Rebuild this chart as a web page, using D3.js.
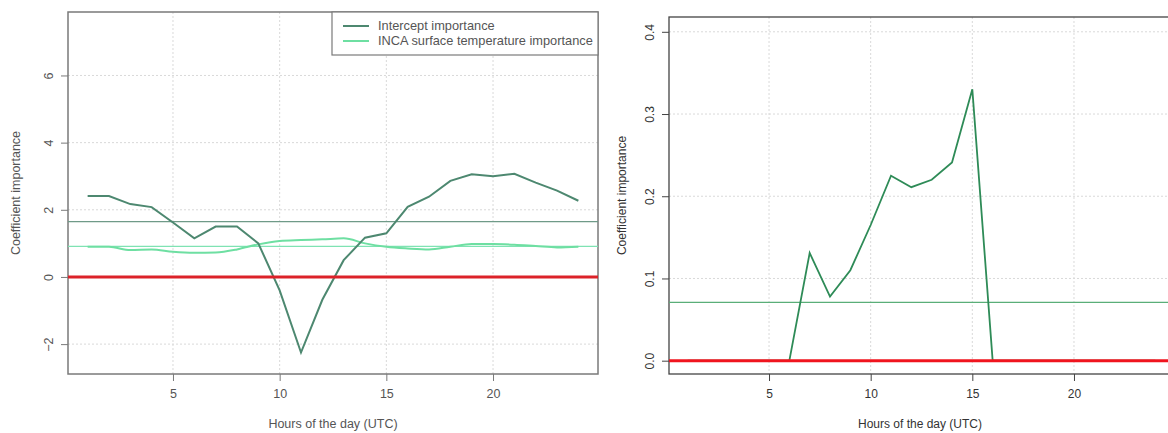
<!DOCTYPE html>
<html>
<head>
<meta charset="utf-8">
<script src="https://cdn.jsdelivr.net/npm/d3@7"></script>
<style>
  body { margin: 0; background: #fff; }
  svg { display: block; font-family: "Liberation Sans", Arial, sans-serif; }
</style>
</head>
<body>
<svg id="chart" width="1168" height="433"></svg>
<script>
// hours of the day
var hours = d3.range(1, 25);

// left panel: two coefficient importances
var interceptImp = [2.41, 2.41, 2.17, 2.08, 1.62, 1.15, 1.5, 1.5, 1.0, -0.4, -2.25, -0.68,
                    0.5, 1.17, 1.3, 2.09, 2.39, 2.86, 3.06, 3.0, 3.07, 2.81, 2.57, 2.27];
var incaTempImp = [0.9, 0.9, 0.8, 0.82, 0.75, 0.72, 0.73, 0.82, 0.97, 1.07, 1.1, 1.12,
                   1.15, 1.0, 0.9, 0.85, 0.82, 0.9, 0.98, 0.98, 0.96, 0.92, 0.88, 0.9];
var interceptMean = 1.65;
var incaMean = 0.91;
var leftYTicks = [-2, 0, 2, 4, 6];
var legendLabels = ["Intercept importance", "INCA surface temperature importance"];

// right panel: single coefficient
var rightImp = [0, 0, 0, 0, 0, 0, 0.131, 0.078, 0.11, 0.165, 0.225, 0.211,
                0.22, 0.241, 0.33, 0, 0, 0, 0, 0, 0, 0, 0, 0];
var rightMean = 0.071;
var rightYTicks = [0, 0.1, 0.2, 0.3, 0.4];

var xTicks = [5, 10, 15, 20];
var xLabel = "Hours of the day (UTC)";
var yLabel = "Coefficient importance";

var svg = d3.select("#chart");

function drawPanel(p) {
    var x = d3.scaleLinear().domain([0.08, 24.92]).range([p.left, p.right]);
    var y = d3.scaleLinear().domain(p.yDomain).range([p.bottom, p.top]);
    var g = svg.append("g");
    var fs = p.fontSize + "px";

    // grid
    g.append("g").selectAll("line").data(xTicks).enter().append("line")
        .attr("x1", function(d) { return x(d); }).attr("x2", function(d) { return x(d); })
        .attr("y1", p.top).attr("y2", p.bottom)
        .attr("stroke", "#d9d9d9").attr("stroke-dasharray", "2,2");
    g.append("g").selectAll("line").data(p.yTicks).enter().append("line")
        .attr("x1", p.left).attr("x2", p.right)
        .attr("y1", function(d) { return y(d); }).attr("y2", function(d) { return y(d); })
        .attr("stroke", "#d9d9d9").attr("stroke-dasharray", "2,2");

    // axes
    var xAxis = g.append("g")
        .attr("transform", "translate(0," + p.bottom + ")")
        .call(d3.axisBottom(x).tickValues(xTicks).tickSize(7).tickPadding(8).tickFormat(d3.format("d")));
    var yAxis = g.append("g")
        .attr("transform", "translate(" + p.left + ",0)")
        .call(d3.axisLeft(y).tickValues(p.yTicks).tickSize(7).tickPadding(0).tickFormat(p.yFormat));
    [xAxis, yAxis].forEach(function(a) {
        a.select(".domain").remove();
        a.selectAll(".tick line").attr("stroke", p.axisColor);
        a.selectAll("text").attr("fill", p.textColor).style("font-size", fs);
    });
    yAxis.selectAll(".tick text")
        .attr("text-anchor", "middle")
        .attr("transform", "translate(-19,0) rotate(-90)")
        .attr("x", 0).attr("dy", "0.35em");

    // box
    g.append("rect")
        .attr("x", p.left).attr("y", p.top)
        .attr("width", p.right - p.left).attr("height", p.bottom - p.top)
        .attr("fill", "none").attr("stroke", p.axisColor).attr("stroke-width", p.boxWidth);

    // axis titles
    g.append("text")
        .attr("x", p.xLabelX).attr("y", 428)
        .attr("text-anchor", "middle").attr("fill", p.textColor)
        .style("font-size", fs).text(xLabel);
    g.append("text")
        .attr("transform", "translate(" + p.yLabelX + "," + ((p.top + p.bottom) / 2) + ") rotate(-90)")
        .attr("text-anchor", "middle").attr("fill", p.textColor)
        .style("font-size", fs).text(yLabel);

    return {x: x, y: y, g: g};
}

var line = function(x, y) {
    return d3.line().x(function(d, i) { return x(hours[i]); }).y(function(d) { return y(d); });
};

// ---- left panel
var L = drawPanel({
    left: 68, right: 598, top: 12, bottom: 374,
    yDomain: [-2.89, 7.89], yTicks: leftYTicks, yFormat: d3.format("d"),
    axisColor: "#7a7a7a", textColor: "#555", boxWidth: 1.5, fontSize: 12.5,
    xLabelX: 333, yLabelX: 20
});

L.g.append("line")
    .attr("x1", 68).attr("x2", 598)
    .attr("y1", L.y(interceptMean)).attr("y2", L.y(interceptMean))
    .attr("stroke", "#6f9a88").attr("stroke-width", 1.2);
L.g.append("line")
    .attr("x1", 68).attr("x2", 598)
    .attr("y1", L.y(incaMean)).attr("y2", L.y(incaMean))
    .attr("stroke", "#7fe3b3").attr("stroke-width", 1.2);

L.g.append("path").datum(incaTempImp)
    .attr("d", line(L.x, L.y).curve(d3.curveMonotoneX))
    .attr("fill", "none").attr("stroke", "#6edfa2").attr("stroke-width", 2);
L.g.append("path").datum(interceptImp)
    .attr("d", line(L.x, L.y))
    .attr("fill", "none").attr("stroke", "#4d8870").attr("stroke-width", 2);

L.g.append("line")
    .attr("x1", 68).attr("x2", 598)
    .attr("y1", L.y(0)).attr("y2", L.y(0))
    .attr("stroke", "#dc2229").attr("stroke-width", 3);

// legend
var leg = L.g.append("g");
leg.append("rect")
    .attr("x", 332).attr("y", 12).attr("width", 266).attr("height", 43)
    .attr("fill", "#fff").attr("stroke", "#7a7a7a").attr("stroke-width", 1.2);
var legColors = ["#4d8870", "#6edfa2"];
legendLabels.forEach(function(t, i) {
    var yy = 26 + i * 15;
    leg.append("line").attr("x1", 343).attr("x2", 369).attr("y1", yy).attr("y2", yy)
        .attr("stroke", legColors[i]).attr("stroke-width", 2);
    leg.append("text").attr("x", 378).attr("y", yy).attr("dy", "0.35em")
        .attr("fill", "#555").style("font-size", "12.8px").text(t);
});

// ---- right panel
var R = drawPanel({
    left: 669, right: 1174, top: 17, bottom: 374,
    yDomain: [-0.0162, 0.418], yTicks: rightYTicks, yFormat: d3.format(".1f"),
    axisColor: "#444", textColor: "#333", boxWidth: 1.3, fontSize: 12,
    xLabelX: 920, yLabelX: 626
});

R.g.append("line")
    .attr("x1", 669).attr("x2", 1174)
    .attr("y1", R.y(rightMean)).attr("y2", R.y(rightMean))
    .attr("stroke", "#5aae78").attr("stroke-width", 1.2);
R.g.append("path").datum(rightImp)
    .attr("d", line(R.x, R.y))
    .attr("fill", "none").attr("stroke", "#2e8b57").attr("stroke-width", 1.8);
R.g.append("line")
    .attr("x1", 669).attr("x2", 1174)
    .attr("y1", R.y(0)).attr("y2", R.y(0))
    .attr("stroke", "#f0141e").attr("stroke-width", 3);
</script>
</body>
</html>
